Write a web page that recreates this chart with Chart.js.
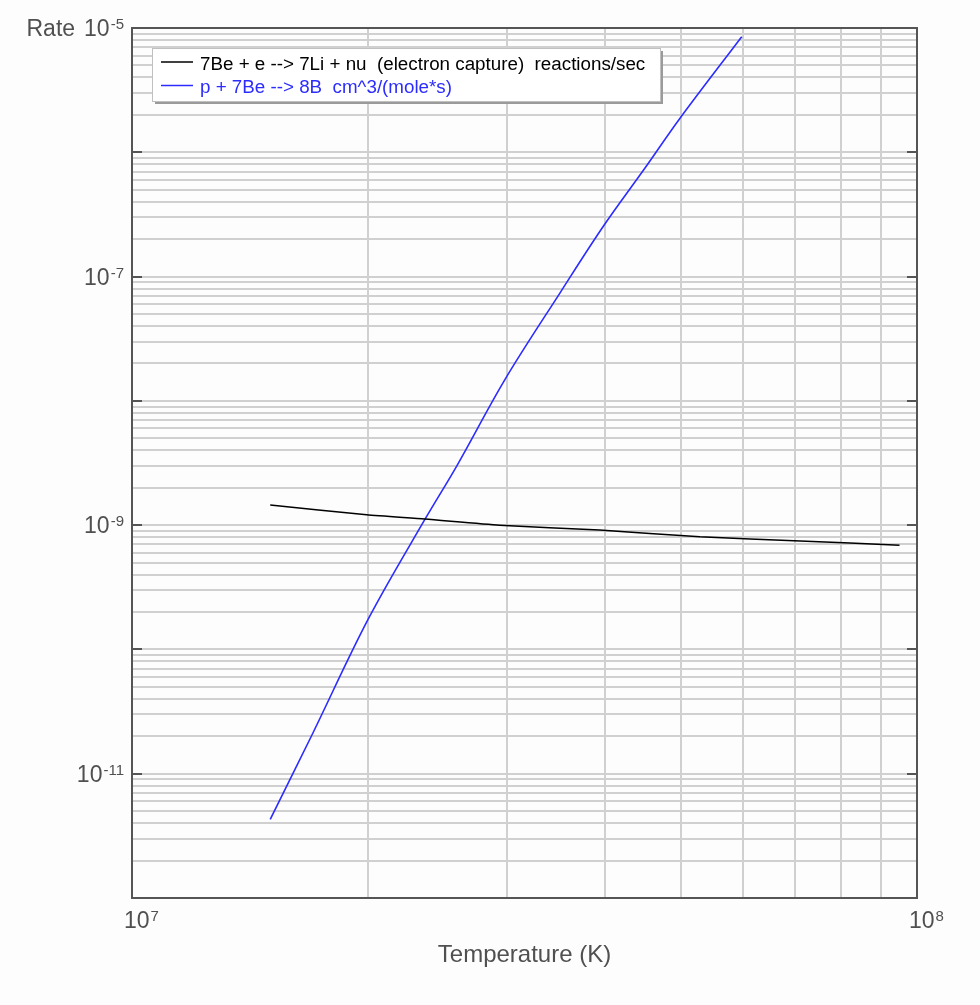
<!DOCTYPE html>
<html>
<head>
<meta charset="utf-8">
<script src="https://cdn.jsdelivr.net/npm/chart.js@4.4.1/dist/chart.umd.min.js"></script>
<style>
    body { margin: 0; background: #fdfdfd; }
    canvas { display: block; }
</style>
</head>
<body>
<canvas id="rateChart" width="980" height="1005"></canvas>
<script>
// 7Be electron capture rate (reactions/sec) vs temperature
const tempCapture = [1.5e7, 1.99e7, 2.36e7, 2.94e7, 3.94e7, 5.29e7, 7.1e7, 9.5e7];
const rateCapture = [1.45e-9, 1.21e-9, 1.12e-9, 1.0e-9, 9.12e-10, 8.05e-10, 7.45e-10, 6.9e-10];

// p + 7Be --> 8B rate, cm^3/(mole*s)
const tempProton = [1.5e7, 1.694e7, 2.0e7, 2.362e7, 2.592e7, 2.987e7, 3.51e7, 3.985e7, 4.503e7, 4.99e7, 5.98e7];
const rateProton = [4.29e-12, 2.03e-11, 1.76e-10, 1.117e-9, 2.99e-9, 1.49e-8, 7.4e-8, 2.54e-7, 7.47e-7, 1.88e-6, 8.51e-6];

const seriesLabels = [
    '7Be + e --> 7Li + nu  (electron capture)  reactions/sec',
    'p + 7Be --> 8B  cm^3/(mole*s)'
];
const seriesColors = ['#000000', '#2c2cff'];

// axis ranges (powers of ten) and which decades get labels
const xDecades = [7, 8];
const yDecades = [-12, -11, -10, -9, -8, -7, -6, -5];
const yLabelDecades = [-5, -7, -9, -11];

const inkColor = '#505050';
const fontName = '"Liberation Sans", Arial, sans-serif';

function toPoints(xs, ys) {
    return xs.map((x, i) => ({ x: x, y: ys[i] }));
}

// 1..9 x 10^n ticks so every minor gridline is drawn
function logTicks(decades) {
    const ticks = [];
    for (let i = 0; i < decades.length - 1; i++) {
        for (let m = 1; m < 10; m++) {
            ticks.push({ value: m * Math.pow(10, decades[i]) });
        }
    }
    ticks.push({ value: Math.pow(10, decades[decades.length - 1]) });
    return ticks;
}

function drawPower(ctx, exp, x, y, align) {
    const sup = String(exp);
    ctx.font = '23px ' + fontName;
    const wBase = ctx.measureText('10').width;
    ctx.font = '15px ' + fontName;
    const wExp = ctx.measureText(sup).width;
    const left = align === 'right' ? x - wBase - wExp - 1 : x;
    ctx.textAlign = 'left';
    ctx.textBaseline = 'alphabetic';
    ctx.font = '23px ' + fontName;
    ctx.fillText('10', left, y);
    ctx.font = '15px ' + fontName;
    ctx.fillText(sup, left + wBase + 1, y - 7);
    return left;
}

const framePlugin = {
    id: 'frame',
    afterDraw(chart) {
        const ctx = chart.ctx;
        const area = chart.chartArea;
        const xs = chart.scales.x;
        const ys = chart.scales.y;
        ctx.save();

        // plot frame
        ctx.strokeStyle = '#555555';
        ctx.lineWidth = 2;
        ctx.strokeRect(area.left, area.top, area.right - area.left, area.bottom - area.top);

        // decade ticks on both sides
        yDecades.forEach(d => {
            const py = Math.round(ys.getPixelForValue(Math.pow(10, d)));
            ctx.beginPath();
            ctx.moveTo(area.left, py);
            ctx.lineTo(area.left + 10, py);
            ctx.moveTo(area.right, py);
            ctx.lineTo(area.right - 10, py);
            ctx.stroke();
        });

        // y labels
        ctx.fillStyle = inkColor;
        yLabelDecades.forEach(d => {
            const py = ys.getPixelForValue(Math.pow(10, d));
            const left = drawPower(ctx, d, area.left - 8, py + 8, 'right');
            if (d === yDecades[yDecades.length - 1]) {
                ctx.font = '23px ' + fontName;
                ctx.textAlign = 'right';
                ctx.fillText('Rate', left - 9, py + 8);
            }
        });

        // x labels
        xDecades.forEach(d => {
            const px = xs.getPixelForValue(Math.pow(10, d));
            drawPower(ctx, d, px - 8, area.bottom + 30, 'left');
        });

        // axis title
        ctx.font = '24px ' + fontName;
        ctx.textAlign = 'center';
        ctx.fillStyle = inkColor;
        ctx.fillText('Temperature (K)', (area.left + area.right) / 2, area.bottom + 64);

        // legend box
        const bx = area.left + 20, by = area.top + 20, bw = 508, bh = 53;
        ctx.fillStyle = '#9a9a9a';
        ctx.fillRect(bx + 3, by + 3, bw, bh);
        ctx.fillStyle = '#ffffff';
        ctx.fillRect(bx, by, bw, bh);
        ctx.strokeStyle = '#c0c0c0';
        ctx.lineWidth = 1;
        ctx.strokeRect(bx + 0.5, by + 0.5, bw, bh);

        ctx.font = '16px ' + fontName;
        const fit = 445 / ctx.measureText(seriesLabels[0]).width;
        ctx.font = (16 * fit).toFixed(1) + 'px ' + fontName;
        ctx.textAlign = 'left';
        seriesLabels.forEach((label, i) => {
            const ly = by + 14 + i * 23.5;
            ctx.strokeStyle = seriesColors[i];
            ctx.lineWidth = 1.5;
            ctx.beginPath();
            ctx.moveTo(bx + 9, ly);
            ctx.lineTo(bx + 41, ly);
            ctx.stroke();
            ctx.fillStyle = seriesColors[i];
            ctx.fillText(label, bx + 48, ly + 7.5);
        });

        ctx.restore();
    }
};

document.addEventListener("DOMContentLoaded", function () {
    const canvas = document.getElementById('rateChart');
    const ctx = canvas.getContext('2d');

    const gridStyle = {
        color: '#d0d0d0',
        lineWidth: 2,
        drawTicks: false
    };

    new Chart(ctx, {
        type: 'line',
        data: {
            datasets: [{
                label: seriesLabels[0],
                data: toPoints(tempCapture, rateCapture),
                borderColor: seriesColors[0],
                borderWidth: 1.5,
                pointRadius: 0,
                tension: 0.2
            }, {
                label: seriesLabels[1],
                data: toPoints(tempProton, rateProton),
                borderColor: seriesColors[1],
                borderWidth: 1.6,
                pointRadius: 0,
                tension: 0.35
            }]
        },
        options: {
            responsive: false,
            animation: false,
            layout: { padding: { left: 132, right: 63, top: 28, bottom: 107 } },
            plugins: {
                legend: { display: false },
                tooltip: { enabled: false }
            },
            scales: {
                x: {
                    type: 'logarithmic',
                    min: Math.pow(10, xDecades[0]),
                    max: Math.pow(10, xDecades[xDecades.length - 1]),
                    afterBuildTicks: scale => { scale.ticks = logTicks(xDecades); },
                    ticks: { display: false },
                    grid: gridStyle,
                    border: { display: false }
                },
                y: {
                    type: 'logarithmic',
                    min: Math.pow(10, yDecades[0]),
                    max: Math.pow(10, yDecades[yDecades.length - 1]),
                    afterBuildTicks: scale => { scale.ticks = logTicks(yDecades); },
                    ticks: { display: false },
                    grid: gridStyle,
                    border: { display: false }
                }
            }
        },
        plugins: [framePlugin]
    });
});
</script>
</body>
</html>
